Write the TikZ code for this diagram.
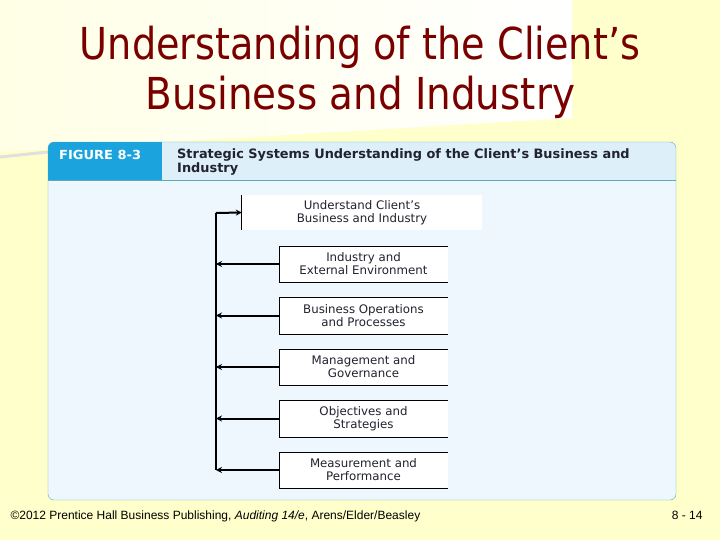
\documentclass[tikz,border=0pt]{standalone}
\usepackage{fontspec}
\setmainfont{DejaVu Sans}
\newfontfamily\footfont{Liberation Sans}
\usetikzlibrary{arrows.meta,positioning,calc}
\definecolor{slidebg}{HTML}{FFFFCC}
\definecolor{titlered}{HTML}{7A0000}
\definecolor{figblue}{HTML}{1AA3DD}
\definecolor{headblue}{HTML}{DDF0FA}
\definecolor{bodyblue}{HTML}{EEF7FD}
\definecolor{frameteal}{HTML}{5FA9B5}
\definecolor{inkdark}{HTML}{222230}

\begin{document}
\begin{tikzpicture}[x=1pt,y=-1pt]
  \tikzset{item/.style={fill=white,minimum width=169pt,minimum height=36pt,inner sep=0pt,
      align=center,text=inkdark,font=\fontsize{11.8}{13}\selectfont},
    arr/.style={line width=2pt,-{Stealth[length=6pt,width=6pt]}}}
  \useasboundingbox (0,0) rectangle (720,540);
  % slide background
  \fill[slidebg] (0,0) rectangle (720,540);
  \shade[left color=slidebg!50!white,right color=white] (0,0) -- (572,0) -- (572,118) -- (0,152) -- cycle;
  \draw[black!12,line width=3pt] (0,157) -- (48,152);
  % title
  \node[titlered,anchor=base] (t1) at (360,60)
    {\resizebox{560pt}{\height}{\fontsize{44}{44}\selectfont Understanding of the Client’s}};
  \node[titlered,anchor=base] (t2) at (360.5,110)
    {\resizebox{429pt}{\height}{\fontsize{44}{44}\selectfont Business and Industry}};
  % figure frame
  \begin{scope}
    \clip[rounded corners=6pt] (48,142) rectangle (676,500);
    \fill[bodyblue] (48,142) rectangle (676,500);
    \fill[headblue] (48,142) rectangle (676,180);
    \fill[figblue] (48,142) rectangle (162,180);
  \end{scope}
  \draw[frameteal,rounded corners=6pt] (48,142) rectangle (676,500);
  \draw[frameteal] (48,180) -- (676,180);
  \node[anchor=base west,inner sep=0pt,text=white,font=\bfseries\fontsize{12.5}{13}\selectfont] (fig) at (59,159.5)
    {\resizebox{82pt}{\height}{FIGURE 8-3}};
  \node[anchor=north west,align=left,inner sep=0pt,text=inkdark,font=\bfseries\fontsize{12.9}{14.5}\selectfont] (cap) at (177,148)
    {Strategic Systems Understanding of the Client’s Business and\\Industry};
  % diagram
  \coordinate (spinetop) at (216,213);
  \coordinate (spinebot) at (216,470);
  \node[item,minimum width=240pt,minimum height=35pt] (goal) at (362,212.5) {Understand Client’s\\Business and Industry};
  \draw[line width=1pt] (goal.north west) -- (goal.south west);
  \foreach \name/\y/\txt in {ind/264/{Industry and\\External Environment},
      ops/315.5/{Business Operations\\and Processes},
      mgt/367/{Management and\\Governance},
      obj/418.5/{Objectives and\\Strategies},
      msr/470/{Measurement and\\Performance}}{
    \node[item] (\name) at (363.5,\y) {\txt};
    \draw (\name.north east) -- (\name.north west) -- (\name.south west) -- (\name.south east);
    \draw[arr] (\name.west) -- (\name.west -| spinetop);
  }
  \draw[line width=2pt] (spinetop) -- (spinebot);
  \draw[arr] (spinetop) -- (goal.west);
  % footer
  \node[anchor=base west,font=\footfont\fontsize{12}{14}\selectfont] (foot) at (7,519)
    {©2012 Prentice Hall Business Publishing, \textit{Auditing 14/e}, Arens/Elder/Beasley};
  \node[anchor=base east,font=\footfont\fontsize{12}{14}\selectfont] (pg) at (706,519) {8 - 14};
\end{tikzpicture}
\end{document}
